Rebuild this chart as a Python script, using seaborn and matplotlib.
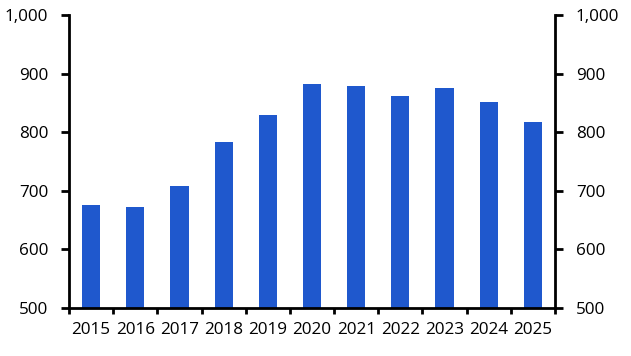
import matplotlib
matplotlib.use("Agg")
import matplotlib.pyplot as plt
import seaborn as sns
import pandas as pd
import numpy as np
from matplotlib.ticker import FixedLocator, FuncFormatter

years = ["2015", "2016", "2017", "2018", "2019", "2020", "2021", "2022", "2023", "2024", "2025"]
values = [675, 673, 709, 783, 830, 883, 878, 861, 875, 851, 818]
yticks = [500, 600, 700, 800, 900, 1000]

sns.set_style("white")
plt.rcParams['font.family'] = ['Open Sans', 'DejaVu Sans']

df = pd.DataFrame({"year": years, "value": values})

fig = plt.figure(figsize=(6.31, 3.56), dpi=100)
ax = fig.add_axes([69/631, 1 - 308/356, (555-69)/631, (308-15)/356])
sns.barplot(data=df, x="year", y="value", color="#1F58CD", width=0.41,
            saturation=1, linewidth=0, edgecolor="none", ax=ax)
ax.set_xlim(-0.5, len(years) - 0.5)
ax.set_ylim(500, 1000)
ax.set_xlabel("")
ax.set_ylabel("")

fmt = FuncFormatter(lambda v, p: f"{int(v):,}")
ax.set_yticks(yticks)
ax.yaxis.set_major_formatter(fmt)

ax.set_xticks(range(len(years)))
ax.set_xticklabels(years)
ax.xaxis.set_minor_locator(FixedLocator(np.arange(-0.5, len(years), 1.0)))
ax.tick_params(axis="x", which="major", length=0, pad=10, labelsize=12.3, colors="black")
ax.tick_params(axis="x", which="minor", length=4, width=2, direction="out", bottom=True, color="black")
ax.tick_params(axis="y", which="major", length=6, width=2, direction="out", left=True,
               labelsize=12.3, pad=9, colors="black")

for s in ["top", "right"]:
    ax.spines[s].set_visible(False)
for s in ["left", "bottom"]:
    ax.spines[s].set_visible(True)
    ax.spines[s].set_linewidth(2)
    ax.spines[s].set_color("black")

ax2 = ax.twinx()
ax2.set_ylim(500, 1000)
ax2.set_yticks(yticks)
ax2.yaxis.set_major_formatter(fmt)
ax2.tick_params(axis="y", which="major", length=6, width=2, direction="out", right=True,
                labelsize=12.3, pad=9, colors="black")
for s in ["top", "left", "bottom"]:
    ax2.spines[s].set_visible(False)
ax2.spines["right"].set_visible(True)
ax2.spines["right"].set_linewidth(2)
ax2.spines["right"].set_color("black")

fig.savefig("out.png", dpi=100)
